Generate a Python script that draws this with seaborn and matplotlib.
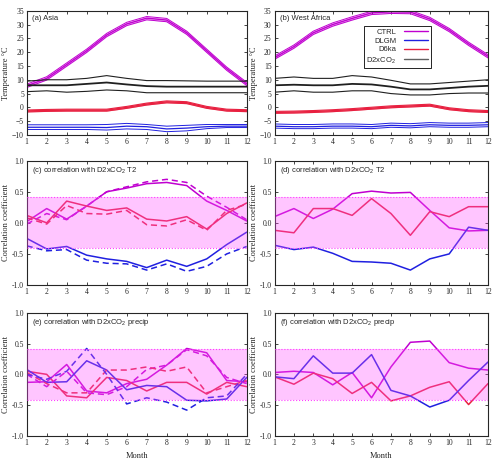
import numpy as np
import matplotlib
matplotlib.use('Agg')
import matplotlib.pyplot as plt
import seaborn as sns

sns.set_style('ticks')
plt.rcParams['font.family'] = ['Liberation Serif', 'DejaVu Serif']
plt.rcParams['xtick.direction'] = 'in'
plt.rcParams['ytick.direction'] = 'in'
plt.rcParams['mathtext.fontset'] = 'custom'
plt.rcParams['mathtext.rm'] = 'Liberation Sans'

months = np.arange(1, 13)

# ---- temperature climatologies (centre, upper, lower) ----
asia_ctrl = [7.8, 10.5, 15.5, 20.5, 26.2, 30.2, 32.3, 31.6, 27.0, 20.5, 14.0, 8.5]
asia_dlgm = [-7.2, -7.2, -7.2, -7.2, -7.3, -6.8, -7.0, -7.8, -7.5, -7.0, -6.8, -6.8]
asia_dlgm_hi = [-6.3, -6.3, -6.3, -6.3, -6.2, -5.8, -6.2, -6.8, -6.5, -6.2, -6.2, -6.2]
asia_dlgm_lo = [-8.0, -8.0, -8.0, -8.0, -8.2, -7.8, -8.0, -8.8, -8.5, -7.7, -7.3, -7.3]
asia_d6ka = [-1.3, -1.1, -1.0, -1.0, -1.0, 0.0, 1.2, 2.0, 1.7, 0.0, -1.0, -1.2]
asia_d2x = [8.0, 8.0, 8.0, 8.5, 9.0, 8.3, 7.7, 7.5, 7.5, 7.5, 7.5, 7.5]
asia_d2x_hi = [9.5, 10.0, 10.0, 10.5, 11.5, 10.5, 9.7, 9.7, 9.6, 9.5, 9.5, 9.5]
asia_d2x_lo = [5.7, 6.0, 5.5, 5.8, 6.3, 6.0, 5.3, 5.3, 5.3, 5.3, 5.3, 5.3]

waf_ctrl = [18.0, 22.0, 27.0, 30.0, 32.2, 34.2, 34.6, 34.5, 32.0, 28.0, 23.0, 18.5]
waf_dlgm = [-6.8, -7.0, -7.0, -6.8, -6.8, -7.0, -6.5, -6.7, -6.3, -6.5, -6.5, -6.3]
waf_dlgm_hi = [-6.0, -6.2, -6.2, -6.0, -6.0, -6.2, -5.7, -5.9, -5.5, -5.7, -5.7, -5.5]
waf_dlgm_lo = [-7.5, -7.7, -7.7, -7.5, -7.5, -7.7, -7.2, -7.4, -7.0, -7.2, -7.2, -7.0]
waf_d6ka = [-1.8, -1.7, -1.5, -1.2, -0.8, -0.3, 0.2, 0.5, 0.8, -0.5, -1.2, -1.5]
waf_d2x = [8.0, 8.2, 8.0, 8.0, 8.5, 8.3, 7.5, 6.5, 6.5, 7.0, 7.5, 7.8]
waf_d2x_hi = [10.5, 11.0, 10.5, 10.5, 11.5, 11.0, 9.8, 8.5, 8.5, 9.0, 9.5, 10.0]
waf_d2x_lo = [5.5, 6.0, 5.5, 5.5, 6.0, 6.0, 5.0, 4.5, 4.5, 5.0, 5.2, 5.2]

# ---- correlations with D2xCO2 T2 ----
c_ctrl = [0.02, 0.23, 0.06, 0.27, 0.50, 0.56, 0.63, 0.65, 0.60, 0.35, 0.20, 0.03]
c_ctrl_d = [-0.02, 0.15, 0.05, 0.27, 0.50, 0.58, 0.66, 0.70, 0.65, 0.43, 0.25, 0.05]
c_d6ka = [0.12, 0.00, 0.35, 0.27, 0.20, 0.24, 0.06, 0.03, 0.10, -0.10, 0.15, 0.32]
c_d6ka_d = [0.08, -0.02, 0.28, 0.15, 0.14, 0.20, -0.03, -0.05, 0.05, -0.12, 0.20, 0.30]
c_dlgm = [-0.25, -0.42, -0.38, -0.52, -0.58, -0.62, -0.72, -0.60, -0.70, -0.58, -0.35, -0.15]
c_dlgm_d = [-0.37, -0.45, -0.43, -0.60, -0.65, -0.66, -0.76, -0.66, -0.78, -0.70, -0.50, -0.38]

d_ctrl = [0.10, 0.23, 0.07, 0.22, 0.47, 0.51, 0.48, 0.49, 0.20, -0.08, -0.13, -0.12]
d_d6ka = [-0.12, -0.16, 0.23, 0.23, 0.12, 0.39, 0.15, -0.20, 0.18, 0.10, 0.26, 0.26]
d_dlgm = [-0.36, -0.43, -0.39, -0.49, -0.62, -0.63, -0.65, -0.76, -0.58, -0.50, -0.07, -0.12]

# ---- correlations with D2xCO2 precip ----
e_ctrl = [-0.13, -0.12, 0.16, -0.27, -0.30, -0.15, -0.08, 0.15, 0.42, 0.35, -0.10, -0.12]
e_ctrl_d = [0.00, -0.20, 0.05, -0.30, -0.33, -0.20, 0.08, 0.15, 0.40, 0.30, -0.05, -0.15]
e_d6ka = [0.05, 0.00, -0.35, -0.38, -0.05, -0.10, -0.27, -0.13, -0.13, -0.32, -0.13, -0.20]
e_d6ka_d = [0.03, -0.15, -0.30, -0.30, 0.07, 0.07, 0.12, 0.05, 0.12, -0.30, -0.20, -0.10]
e_dlgm = [0.08, -0.13, -0.12, 0.22, 0.07, -0.25, -0.18, -0.20, -0.42, -0.43, -0.40, -0.05]
e_dlgm_d = [0.00, -0.08, 0.05, 0.42, 0.00, -0.48, -0.38, -0.45, -0.58, -0.38, -0.35, 0.00]

f_ctrl = [0.03, 0.05, 0.03, -0.17, 0.03, -0.38, 0.12, 0.52, 0.54, 0.19, 0.10, 0.07]
f_d6ka = [-0.04, -0.16, 0.02, -0.07, -0.31, -0.13, -0.43, -0.35, -0.21, -0.12, -0.49, -0.15]
f_dlgm = [-0.04, -0.07, 0.30, 0.02, 0.02, 0.32, -0.26, -0.35, -0.53, -0.42, -0.10, 0.20]

sig = 0.41
MAG = '#c000d0'
BLU = '#2020e0'
RED = '#e82040'
BLK = '#202020'

fig = plt.figure(figsize=(4.92, 4.59), dpi=100)
W, H = 492.0, 459.0


def box(l, r, t, b):
    return [l / W, 1 - b / H, (r - l) / W, (b - t) / H]


ax_a = fig.add_axes(box(26.7, 246.7, 10.7, 135))
ax_b = fig.add_axes(box(274.5, 488, 10.7, 135))
ax_c = fig.add_axes(box(26.7, 246.7, 160.7, 285))
ax_d = fig.add_axes(box(274.5, 488, 160.7, 285))
ax_e = fig.add_axes(box(26.7, 246.7, 312.7, 436))
ax_f = fig.add_axes(box(274.5, 488, 312.7, 436))


def style(ax):
    ax.set_xlim(1, 12)
    ax.set_xticks(months)
    ax.tick_params(labelsize=5.5, length=2.5, width=0.6, top=True, right=True, pad=2)
    for s in ax.spines.values():
        s.set_linewidth(0.8)
    ax.set_xlabel('')


def temp_series(ax, c, hi, lo, col, lwc, lwe, fill=None):
    sns.lineplot(x=months, y=c, color=col, lw=lwc, ax=ax)
    sns.lineplot(x=months, y=hi, color=col, lw=lwe, ax=ax)
    sns.lineplot(x=months, y=lo, color=col, lw=lwe, ax=ax)
    if fill:
        ax.fill_between(months, lo, hi, color=col, alpha=fill, lw=0)


def temp_panel(ax, ctrl, dlgm, dlgm_hi, dlgm_lo, d6ka, d2x, d2x_hi, d2x_lo, title):
    ctrl = np.array(ctrl)
    d6ka = np.array(d6ka)
    temp_series(ax, ctrl, ctrl + 0.6, ctrl - 0.6, MAG, 1.0, 0.7, fill=0.25)
    temp_series(ax, d2x, d2x_hi, d2x_lo, BLK, 1.3, 0.8)
    temp_series(ax, d6ka, d6ka + 0.35, d6ka - 0.35, RED, 1.0, 0.8, fill=0.5)
    temp_series(ax, dlgm, dlgm_hi, dlgm_lo, BLU, 0.9, 0.7)
    style(ax)
    ax.set_ylim(-10, 35)
    ax.set_yticks(np.arange(-10, 36, 5))
    ax.set_ylabel('Temperature °C', fontsize=6, labelpad=1.5)
    ax.text(0.025, 0.965, title, transform=ax.transAxes, ha='left', va='top',
            fontsize=5.5, family='Liberation Sans')


def corr_panel(ax, solid, dashed, title, xlabel=False):
    for vals, col in zip(solid, [MAG, RED, BLU]):
        sns.lineplot(x=months, y=vals, color=col, lw=1.1, ax=ax, zorder=2)
    for vals, col in zip(dashed, [MAG, RED, BLU]):
        sns.lineplot(x=months, y=vals, color=col, lw=1.1, ls=(0, (4, 2.5)), ax=ax, zorder=2)
    ax.fill_between([1, 12], -sig, sig, color='#ff50ff', alpha=0.33, lw=0, zorder=3)
    ax.axhline(sig, color='#ff40ff', lw=0.8, ls=':', zorder=3)
    ax.axhline(-sig, color='#ff40ff', lw=0.8, ls=':', zorder=3)
    style(ax)
    ax.set_ylim(-1, 1)
    ax.set_yticks([-1, -0.5, 0, 0.5, 1])
    ax.yaxis.set_major_formatter(matplotlib.ticker.FormatStrFormatter('%.1f'))
    ax.set_ylabel('Correlation coefficient', fontsize=6, labelpad=1.5)
    ax.text(0.025, 0.965, title, transform=ax.transAxes, ha='left', va='top',
            fontsize=5.5, family='Liberation Sans')
    if xlabel:
        ax.set_xlabel('Month', fontsize=6, labelpad=4)


temp_panel(ax_a, asia_ctrl, asia_dlgm, asia_dlgm_hi, asia_dlgm_lo, asia_d6ka,
           asia_d2x, asia_d2x_hi, asia_d2x_lo, '(a) Asia')
temp_panel(ax_b, waf_ctrl, waf_dlgm, waf_dlgm_hi, waf_dlgm_lo, waf_d6ka,
           waf_d2x, waf_d2x_hi, waf_d2x_lo, '(b) West Africa')

handles = [plt.Line2D([], [], color=c, lw=1.0) for c in [MAG, BLU, RED, '#606060']]
leg = ax_b.legend(handles, ['CTRL', 'DLGM', 'D6ka', 'D2xCO$_2$'], loc='upper left',
                  bbox_to_anchor=(0.40, 0.91), markerfirst=False,
                  handlelength=3.2, fancybox=False, framealpha=1, edgecolor='black',
                  borderpad=0.35, labelspacing=0.2, handletextpad=1.0,
                  prop={'family': 'Liberation Sans', 'size': 5.5})
leg.get_frame().set_linewidth(0.6)

corr_panel(ax_c, [c_ctrl, c_d6ka, c_dlgm], [c_ctrl_d, c_d6ka_d, c_dlgm_d],
           '(c) correlation with D2xCO$_2$ T2')
corr_panel(ax_d, [d_ctrl, d_d6ka, d_dlgm], [], '(d) correlation with D2xCO$_2$ T2')
corr_panel(ax_e, [e_ctrl, e_d6ka, e_dlgm], [e_ctrl_d, e_d6ka_d, e_dlgm_d],
           '(e) correlation with D2xCO$_2$ precip', xlabel=True)
corr_panel(ax_f, [f_ctrl, f_d6ka, f_dlgm], [], '(f) correlation with D2xCO$_2$ precip',
           xlabel=True)

fig.savefig('out.png', dpi=100)
